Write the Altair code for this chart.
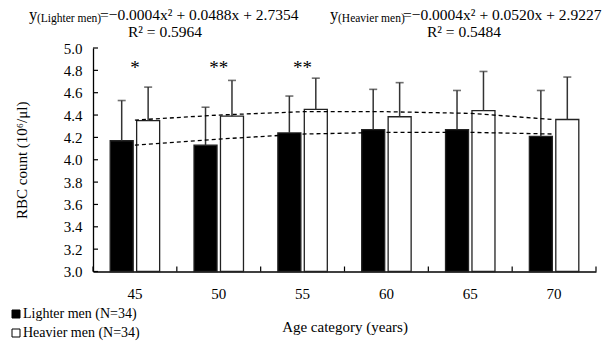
import altair as alt
import pandas as pd

# ---------------- data ----------------
ages = ["45", "50", "55", "60", "65", "70"]
groups = ["Lighter men (N=34)", "Heavier men (N=34)"]
lighter_mean = [4.17, 4.13, 4.24, 4.27, 4.27, 4.21]
lighter_upper = [4.53, 4.47, 4.57, 4.63, 4.62, 4.62]
heavier_mean = [4.35, 4.39, 4.45, 4.385, 4.44, 4.36]
heavier_upper = [4.65, 4.71, 4.73, 4.69, 4.79, 4.74]
trend_lighter = [4.13, 4.185, 4.23, 4.245, 4.245, 4.23]
trend_heavier = [4.355, 4.40, 4.43, 4.43, 4.415, 4.36]
significance = ["*", "**", "**", "", "", ""]
y_ticks = [3.0, 3.2, 3.4, 3.6, 3.8, 4.0, 4.2, 4.4, 4.6, 4.8, 5.0]

eq_sub = ["(Lighter men)", "(Heavier men)"]
eq_body = ["=\u22120.0004x\u00b2 + 0.0488x + 2.7354", "=\u22120.0004x\u00b2 + 0.0520x + 2.9227"]
eq_r2 = ["R\u00b2 =  0.5964", "R\u00b2 =  0.5484"]

FONT = "Liberation Serif"

bars = pd.DataFrame({
    "age": ages * 2,
    "group": [groups[0]] * 6 + [groups[1]] * 6,
    "mean": lighter_mean + heavier_mean,
    "upper": lighter_upper + heavier_upper,
})
trend = pd.DataFrame({
    "age": ages * 2,
    "series": ["light"] * 6 + ["heavy"] * 6,
    "value": trend_lighter + trend_heavier,
})
stars = pd.DataFrame({"age": ages, "sig": significance})
ytick_df = pd.DataFrame({"v": y_ticks})
cat_df = pd.DataFrame({"age": ages})
last_df = pd.DataFrame({"age": ages[-1:]})

xscale = alt.Scale(domain=ages, paddingInner=0, paddingOuter=0)
yscale = alt.Scale(domain=[3, 5], nice=False, zero=False)
offscale = alt.Scale(domain=groups, paddingInner=0.13, paddingOuter=0.65)

# the same axis definitions are given to every layer, so the merged axes keep them
XAX = alt.Axis(orient="bottom", title="Age category (years)", ticks=False,
               labelAngle=0, labelPadding=15, titlePadding=18, grid=False)
YAX = alt.Axis(orient="left", title="RBC count (10\u2076/\u03bcl)", values=y_ticks,
               format=".1f", ticks=False, labelPadding=11, labelOverlap=False,
               titlePadding=34, grid=False)

def X(**kw):
    return alt.X("age:N", scale=xscale, sort=ages, axis=XAX, **kw)

XO = alt.XOffset("group:N", scale=offscale, sort=groups)

bar_layer = alt.Chart(bars).mark_bar(stroke="#222222", strokeWidth=1.3).encode(
    x=X(),
    xOffset=XO,
    y=alt.Y("mean:Q", scale=yscale, axis=YAX),
    y2=alt.datum(3),
    fill=alt.Fill("group:N", scale=alt.Scale(domain=groups, range=["black", "white"]),
                  legend=alt.Legend(orient="none", legendX=-84, legendY=259, title=None,
                                    symbolType="square", symbolSize=64,
                                    symbolStrokeColor="black", symbolStrokeWidth=1,
                                    labelOffset=0, rowPadding=5, padding=0,
                                    labelLimit=300)),
)

err_layer = alt.Chart(bars).mark_rule(color="#333333", strokeWidth=1.5).encode(
    x=X(), xOffset=XO,
    y=alt.Y("mean:Q", scale=yscale, axis=YAX),
    y2="upper:Q",
)

cap_layer = alt.Chart(bars).mark_tick(color="#333333", thickness=1.6, size=8).encode(
    x=X(), xOffset=XO,
    y=alt.Y("upper:Q", scale=yscale, axis=YAX),
)

trend_layer = alt.Chart(trend).mark_line(color="black", strokeDash=[4, 3], strokeWidth=1.3).encode(
    x=X(),
    y=alt.Y("value:Q", scale=yscale, axis=YAX),
    detail="series:N",
)

star_layer = alt.Chart(stars).mark_text(fontSize=19, color="black", baseline="middle").encode(
    x=X(),
    y=alt.YDatum(4.82, scale=yscale, axis=YAX),
    text="sig:N",
)

# inward axis ticks
TICK = 5 / 111.75
ytick_layer = alt.Chart(ytick_df).mark_rule(color="black", strokeWidth=1.2).encode(
    y=alt.Y("v:Q", scale=yscale, axis=YAX), x=alt.value(0), x2=alt.value(5),
)
xtick_layer = alt.Chart(cat_df).mark_rule(color="black", strokeWidth=1.2).encode(
    x=X(bandPosition=0),
    y=alt.YDatum(3, scale=yscale, axis=YAX), y2=alt.Y2Datum(3 + TICK),
)
xtick_last = alt.Chart(last_df).mark_rule(color="black", strokeWidth=1.2).encode(
    x=X(bandPosition=1),
    y=alt.YDatum(3, scale=yscale, axis=YAX), y2=alt.Y2Datum(3 + TICK),
)

def txt(s, x, y, size):
    return alt.Chart(pd.DataFrame({"t": [s]})).mark_text(
        fontSize=size, color="black", align="left", baseline="alphabetic"
    ).encode(x=alt.value(x), y=alt.value(y), text="t:N")

texts = [
    txt("y", -64, -28, 16.5), txt(eq_sub[0], -56, -26, 11.5), txt(eq_body[0], 7, -28, 15.5),
    txt(eq_r2[0], 35, -11, 15.5),
    txt("y", 237, -28, 16.5), txt(eq_sub[1], 245, -26, 11.5), txt(eq_body[1], 310, -28, 15.5),
    txt(eq_r2[1], 334, -11, 15.5),
]

chart = alt.layer(bar_layer, err_layer, cap_layer, trend_layer, star_layer,
                  ytick_layer, xtick_layer, xtick_last, *texts).properties(
    width=503, height=223.5,
    autosize=alt.AutoSizeParams(type="none"),
    padding={"left": 93, "top": 48, "right": 8, "bottom": 73.5},
    background="white",
).configure(font=FONT).configure_view(stroke=None).configure_axis(
    labelFont=FONT, labelFontSize=15, labelColor="black",
    titleFont=FONT, titleFontSize=15, titleFontWeight="normal", titleColor="black",
    domainColor="black", domainWidth=1.3,
).configure_legend(
    labelFont=FONT, labelFontSize=14, labelColor="black",
).configure_text(font=FONT)

chart.save("out.html", embed_options={"renderer": "svg", "actions": False})
